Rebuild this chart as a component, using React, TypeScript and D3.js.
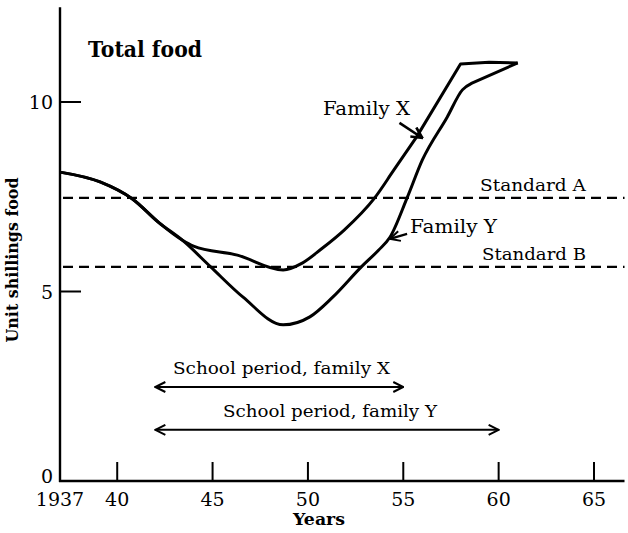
import React from "react";
import * as d3 from "d3";

// Family X (shared start until ~1943, then the upper branch)
const familyXYears = [1937, 1939.1, 1940.8, 1942.2, 1943.4, 1944.0, 1946.3, 1948.7, 1949.7, 1950.7, 1951.9, 1953.5, 1954.5, 1955.7, 1958.0, 1959.5, 1961.0];
const familyXValues = [8.15, 7.89, 7.44, 6.81, 6.36, 6.2, 5.96, 5.57, 5.75, 6.12, 6.62, 7.47, 8.2, 9.08, 11.0, 11.05, 11.03];
const familyXSmoothTo = 13; // after this point the line runs straight

const familyYYears = [1937, 1939.1, 1940.8, 1942.2, 1943.4, 1944.9, 1946.6, 1948.7, 1950.1, 1951.3, 1952.8, 1953.7, 1954.3, 1955.2, 1956.0, 1957.3, 1958.1, 1958.6, 1961.0];
const familyYValues = [8.15, 7.89, 7.44, 6.81, 6.36, 5.65, 4.85, 4.12, 4.33, 4.85, 5.65, 6.09, 6.43, 7.47, 8.47, 9.6, 10.32, 10.5, 11.03];
const familyYSmoothTo = 17;

const standardNames = ["Standard A", "Standard B"];
const standardValues = [7.47, 5.65];

const schoolLabels = ["School period, family X", "School period, family Y"];
const schoolStart = [1942, 1942];
const schoolEnd = [1955, 1960];
const schoolLevel = [2.48, 1.35];

const xTickYears = [1937, 1940, 1945, 1950, 1955, 1960, 1965];
const xTickLabels = ["1937", "40", "45", "50", "55", "60", "65"];
const yTickValues = [0, 5, 10];
const yTickLabels = ["0", "5", "10"];

const W = 628;
const H = 533;
const FONT = "DejaVu Serif";

const x = d3.scaleLinear().domain([1937, 1965]).range([60, 594]);
const y = d3.scaleLinear().domain([0, 10]).range([481, 102]);
const xEnd = 1966.6;
const yTop = 12.5;

type Pt = [number, number];

const seriesPath = (years: number[], values: number[], smoothTo: number) => {
  const pts: Pt[] = years.map((yr, i) => [x(yr), y(values[i])]);
  const smooth = d3.line().curve(d3.curveMonotoneX)(pts.slice(0, smoothTo + 1)) || "";
  const straight = d3.line().curve(d3.curveLinear)(pts.slice(smoothTo)) || "";
  return smooth + straight.replace(/^M/, "L");
};

const App = () => {
  return (
    <svg
      width={W}
      height={H}
      viewBox={`0 0 ${W} ${H}`}
      style={{ position: "absolute", left: 0, top: 0, background: "#fff" }}
      fontFamily={FONT}
    >
      <defs>
        <marker id="head" viewBox="0 0 12 12" refX="11" refY="6" markerWidth="12" markerHeight="12" markerUnits="userSpaceOnUse" orient="auto-start-reverse">
          <path d="M1,1 L11,6 L1,11" fill="none" stroke="#000" strokeWidth={2} />
        </marker>
        <marker id="headBig" viewBox="0 0 12 12" refX="11" refY="6" markerWidth="13" markerHeight="13" markerUnits="userSpaceOnUse" orient="auto">
          <path d="M1,1 L11,6 L1,11" fill="none" stroke="#000" strokeWidth={2.4} />
        </marker>
      </defs>

      {/* axes */}
      <line x1={x(1937)} x2={x(1937)} y1={y(0) + 1} y2={y(yTop)} stroke="#000" strokeWidth={2.4} />
      <line x1={x(1937) - 1} x2={x(xEnd)} y1={y(0)} y2={y(0)} stroke="#000" strokeWidth={2.4} />
      {xTickYears.map((t, i) => (
        <g key={"xt" + i}>
          {i > 0 && <line x1={x(t)} x2={x(t)} y1={y(0)} y2={y(0) - 19} stroke="#000" strokeWidth={2} />}
          <text x={x(t)} y={506} fontSize={19} textAnchor="middle">
            {xTickLabels[i]}
          </text>
        </g>
      ))}
      {yTickValues.map((v, i) => (
        <g key={"yt" + i}>
          {v > 0 && <line x1={x(1937)} x2={x(1937) + 21} y1={y(v)} y2={y(v)} stroke="#000" strokeWidth={2} />}
          <text x={53} y={v === 0 ? 483 : y(v) + 7} fontSize={19} textAnchor="end">
            {yTickLabels[i]}
          </text>
        </g>
      ))}
      <text x={319} y={525} fontSize={17} fontWeight="bold" textAnchor="middle" textLength={52} lengthAdjust="spacingAndGlyphs">
        Years
      </text>
      <text transform="translate(18,260) rotate(-90)" fontSize={16} fontWeight="bold" textAnchor="middle" textLength={165} lengthAdjust="spacingAndGlyphs">
        Unit shillings food
      </text>

      {/* standards */}
      {standardValues.map((v, i) => (
        <g key={"std" + i}>
          <line x1={x(1937) + 3} x2={x(xEnd)} y1={y(v)} y2={y(v)} stroke="#000" strokeWidth={2.2} strokeDasharray="10,6" />
          <text x={i === 0 ? 480 : 482} y={y(v) - 7} fontSize={17} textLength={i === 0 ? 106 : 104} lengthAdjust="spacingAndGlyphs">
            {standardNames[i]}
          </text>
        </g>
      ))}

      {/* family curves */}
      <path d={seriesPath(familyXYears, familyXValues, familyXSmoothTo)} fill="none" stroke="#000" strokeWidth={3} strokeLinejoin="round" />
      <path d={seriesPath(familyYYears, familyYValues, familyYSmoothTo)} fill="none" stroke="#000" strokeWidth={3} strokeLinejoin="round" />

      {/* labels with pointers */}
      <text x={323} y={115} fontSize={18} textLength={87} lengthAdjust="spacingAndGlyphs">
        Family X
      </text>
      <line x1={x(1954.8)} y1={y(9.45)} x2={x(1956.0)} y2={y(9.05)} stroke="#000" strokeWidth={2.6} markerEnd="url(#headBig)" />
      <text x={410} y={233} fontSize={18} textLength={87} lengthAdjust="spacingAndGlyphs">
        Family Y
      </text>
      <line x1={x(1955.2)} y1={y(6.52)} x2={x(1954.3)} y2={y(6.39)} stroke="#000" strokeWidth={2.2} markerEnd="url(#head)" />

      {/* school periods */}
      {schoolLabels.map((lab, i) => (
        <g key={"sp" + i}>
          <line
            x1={x(schoolStart[i])}
            x2={x(schoolEnd[i])}
            y1={y(schoolLevel[i])}
            y2={y(schoolLevel[i])}
            stroke="#000"
            strokeWidth={2}
            markerStart="url(#head)"
            markerEnd="url(#head)"
          />
          <text
            x={i === 0 ? 173 : 223}
            y={y(schoolLevel[i]) - 13}
            fontSize={16}
            textLength={i === 0 ? 217 : 214}
            lengthAdjust="spacingAndGlyphs"
          >
            {lab}
          </text>
        </g>
      ))}

      <text x={88} y={57} fontSize={22} fontWeight="bold" textLength={114} lengthAdjust="spacingAndGlyphs">
        Total food
      </text>
    </svg>
  );
};

export default App;
